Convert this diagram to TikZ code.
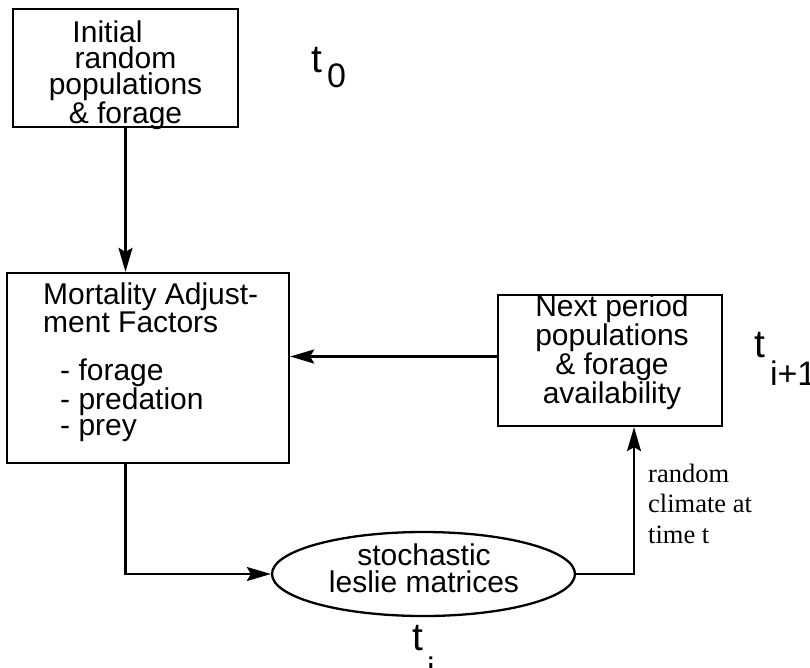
\documentclass[tikz,border=0pt]{standalone}
\usepackage{fontspec}
\setmainfont{Liberation Sans}
\newfontfamily\serifrm{Liberation Serif}
\usetikzlibrary{shapes.geometric,arrows.meta,calc}
\begin{document}
\begin{tikzpicture}[x=1pt,y=-1pt,
  box/.style={draw,line width=2.3pt,rectangle,inner sep=0pt},
  oval/.style={draw,line width=2.3pt,ellipse,inner sep=0pt},
  conn/.style={line width=2.2pt,-{Stealth[length=24pt,width=14pt,inset=4pt]}},
  txt/.style={font=\fontsize{30}{26}\selectfont,inner sep=0pt},
  note/.style={font=\serifrm\fontsize{26.5}{30.5}\selectfont,inner sep=0pt,align=left},
  tlab/.style={font=\fontsize{39}{39}\selectfont,inner sep=0pt,anchor=base west},
]
\useasboundingbox (0,0) rectangle (810,667);
% boxes
\node[box,minimum width=225pt,minimum height=118pt] (b1) at (125.5,68) {};
\node[box,minimum width=282pt,minimum height=190pt] (b2) at (148,368) {};
\node[box,minimum width=224pt,minimum height=131pt] (b3) at (610,360.5) {};
\node[oval,minimum width=303pt,minimum height=84pt] (el) at (423.5,574) {};
% texts (base anchor = baseline of last line)
\node[txt,align=center,anchor=base] (t1) at (125.5,123) {Initial\hspace*{36pt}\\random\\populations\\\& forage};
\node[txt,align=left,anchor=base west] (t2a) at (43,332) {Mortality Adjust-\\ment Factors};
\node[txt,align=left,anchor=base west] (t2b) at (60,435) {- forage\\- predation\\- prey};
\node[txt,align=center,anchor=base] (t3) at (612,403) {Next period\\populations\\\& forage\\availability};
\node[txt,align=center,anchor=base,font=\fontsize{30}{27}\selectfont] (t4) at (424,592) {stochastic\\leslie matrices};
\node[note,anchor=base west] (lab) at (648,543) {random\\climate at\\time t};
% time labels
\node[tlab] (tz) at (311,72) {t\kern5pt\raisebox{-15pt}{\fontsize{34}{34}\selectfont 0}};
\node[tlab] (tn) at (754,357) {t\kern5pt\raisebox{-28pt}{\fontsize{34}{34}\selectfont i+1}};
\node[tlab] (ti) at (412,650) {t\kern4pt\raisebox{-31pt}{\fontsize{34}{34}\selectfont i}};
% connectors
\draw[conn] (b1.south) -- (b1.south |- b2.north);
\draw[conn] ([yshift=4pt]b3.west) -- ([yshift=4pt]b3.west -| b2.east);
\draw[conn] (b1.south |- b2.south) |- (el.west);
\coordinate (up) at ($(b3.south)+(24,0)$);
\draw[conn] (el.east) -| (up);
\end{tikzpicture}
\end{document}
